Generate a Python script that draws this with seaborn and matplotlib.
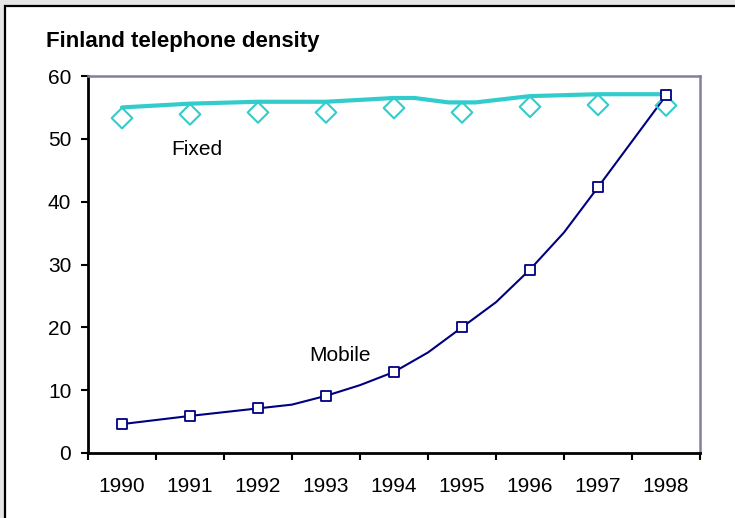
import matplotlib
matplotlib.use("Agg")
import matplotlib.pyplot as plt
from matplotlib.patches import Rectangle
import numpy as np
import pandas as pd
import seaborn as sns

# ---- data -------------------------------------------------------------
years = [1990, 1991, 1992, 1993, 1994, 1995, 1996, 1997, 1998]

# fixed lines per 100 inhabitants (annual figures, shown as diamonds)
fixed_points = [53.3, 53.9, 54.2, 54.2, 54.9, 54.2, 55.1, 55.4, 55.3]
# fixed-line trend trace
fixed_trace_x = [1990, 1991, 1992, 1993, 1994, 1994.3, 1994.8, 1995.2, 1996, 1997, 1998]
fixed_trace_y = [55.0, 55.6, 55.9, 55.9, 56.5, 56.5, 55.8, 55.8, 56.8, 57.1, 57.1]

# mobile subscriptions per 100 inhabitants (annual figures, shown as squares)
mobile_points = [4.6, 5.9, 7.1, 9.1, 12.9, 20.0, 29.2, 42.3, 56.9]
# mobile trend trace, including mid-year readings
mobile_trace_x = [1990, 1991, 1992, 1992.5, 1993, 1993.5, 1994, 1994.5, 1995,
                  1995.5, 1996, 1996.5, 1997, 1998]
mobile_trace_y = [4.6, 5.9, 7.1, 7.7, 9.1, 10.8, 12.9, 16.0, 20.0,
                  24.0, 29.2, 35.1, 42.3, 56.9]

title = "Finland telephone density"
y_ticks = [0, 10, 20, 30, 40, 50, 60]

# ---- styling ----------------------------------------------------------
sns.set_style("white")
plt.rcParams["font.family"] = ["Liberation Sans", "DejaVu Sans"]
plt.rcParams["text.color"] = "black"
plt.rcParams["xtick.color"] = "black"
plt.rcParams["ytick.color"] = "black"
plt.rcParams["xtick.labelcolor"] = "black"
plt.rcParams["ytick.labelcolor"] = "black"

TEAL = "#33CCCC"
NAVY = "#000080"
FS = 15

fig = plt.figure(figsize=(7.35, 5.18), dpi=100, facecolor="#e6e6e6")
# white chart area with a dark frame, kept behind the axes
frame = Rectangle((5 / 735, -0.1), 1.2, 1.1 - 6 / 518,
                  transform=fig.transFigure, facecolor="white",
                  edgecolor="black", linewidth=1.6, zorder=-10)
fig.patches.append(frame)

ax = fig.add_axes([88 / 735, 1 - 453 / 518, (700 - 88) / 735, (453 - 76) / 518])
ax.set_zorder(1)
ax.set_facecolor("white")

base = years[0]
fixed_line = pd.DataFrame({"x": np.array(fixed_trace_x) - base, "y": fixed_trace_y})
mobile_line = pd.DataFrame({"x": np.array(mobile_trace_x) - base, "y": mobile_trace_y})
fixed_pts = pd.DataFrame({"x": np.array(years) - base, "y": fixed_points})
mobile_pts = pd.DataFrame({"x": np.array(years) - base, "y": mobile_points})

sns.lineplot(data=fixed_line, x="x", y="y", ax=ax, color=TEAL, linewidth=3.0,
             sort=False, zorder=2)
sns.lineplot(data=mobile_line, x="x", y="y", ax=ax, color=NAVY, linewidth=1.5,
             sort=False, zorder=3)
sns.scatterplot(data=fixed_pts, x="x", y="y", ax=ax, marker="D", s=10.5 ** 2,
                facecolor="none", edgecolor=TEAL, linewidth=1.5, zorder=4)
sns.scatterplot(data=mobile_pts, x="x", y="y", ax=ax, marker="s", s=7.0 ** 2,
                facecolor="white", edgecolor=NAVY, linewidth=1.3, zorder=5)

ax.set_xlim(-0.5, len(years) - 0.5)
ax.set_ylim(0, 60)
ax.set_xlabel("")
ax.set_ylabel("")

# category boundaries carry the tick marks, labels sit at the centres
ax.set_xticks(np.arange(-0.5, len(years)), labels=[""] * (len(years) + 1))
ax.set_xticks(np.arange(len(years)), labels=[str(y) for y in years], minor=True)
ax.tick_params(axis="x", which="major", direction="out", length=5, width=1.5,
               color="black", bottom=True)
ax.tick_params(axis="x", which="minor", length=0, pad=17, labelsize=FS,
               labelcolor="black")
ax.set_yticks(y_ticks, labels=[str(v) for v in y_ticks])
ax.tick_params(axis="y", direction="out", length=5, width=1.5, color="black",
               left=True, pad=7, labelsize=FS, labelcolor="black")

for side in ("left", "bottom"):
    ax.spines[side].set_color("black")
    ax.spines[side].set_linewidth(2.0)
for side in ("top", "right"):
    ax.spines[side].set_visible(True)
    ax.spines[side].set_color("#808098")
    ax.spines[side].set_linewidth(1.8)

ax.text(0.73, 47.4, "Fixed", fontsize=FS, color="black", va="baseline", ha="left")
ax.text(2.75, 14.7, "Mobile", fontsize=FS, color="black", va="baseline", ha="left")

fig.text(46 / 735, 1 - 46.7 / 518, title, fontsize=16, fontweight="bold",
         va="baseline", ha="left", color="black")

fig.savefig("out.png", dpi=100, facecolor=fig.get_facecolor())
